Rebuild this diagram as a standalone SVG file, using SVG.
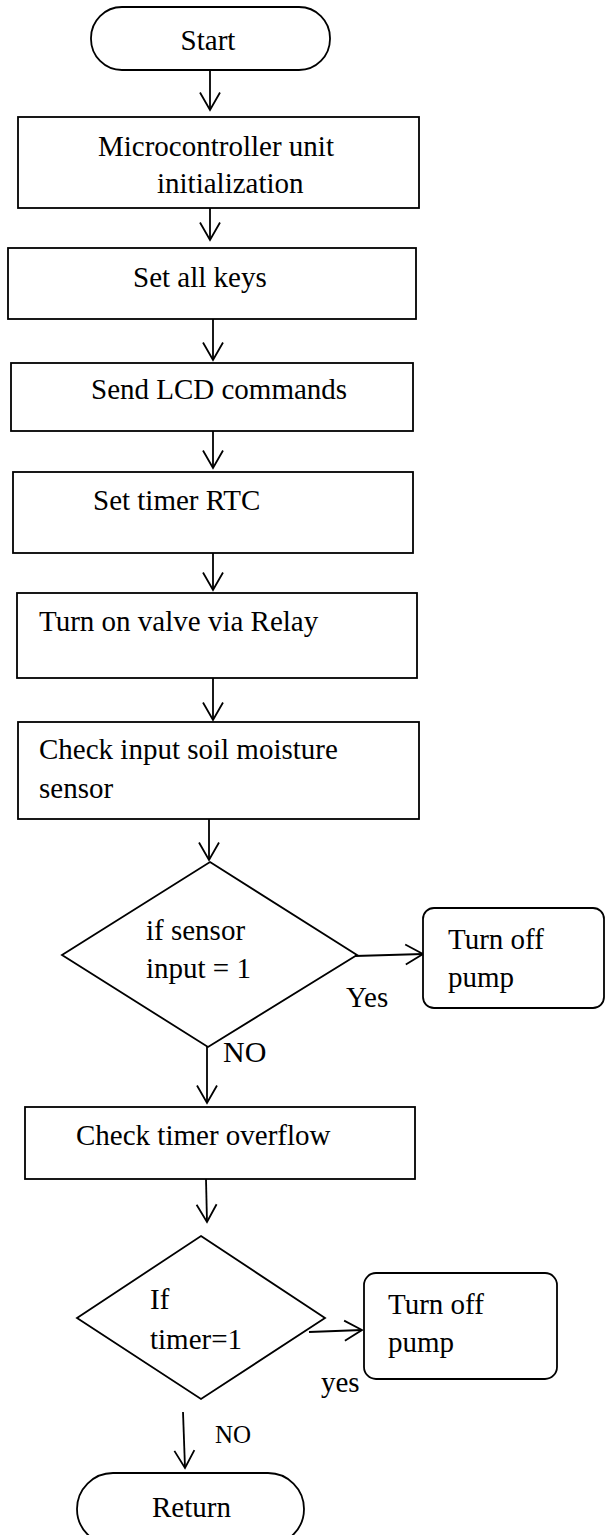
<svg xmlns="http://www.w3.org/2000/svg" width="608" height="1535" viewBox="0 0 608 1535">
<style>
.s{fill:#fff;stroke:#000;stroke-width:1.8}
.t{font-family:"Liberation Serif","Times New Roman",serif;font-size:29px;fill:#000}
.c{fill:none;stroke:#000;stroke-width:1.8}
</style>
<defs>
<marker id="ah" markerUnits="userSpaceOnUse" markerWidth="22" markerHeight="24" viewBox="0 0 22 24" refX="19" refY="12" orient="auto">
<path d="M1.5,2 L19,12 L1.5,22" fill="none" stroke="#000" stroke-width="1.8"/>
</marker>
</defs>
<rect width="608" height="1535" fill="#fff"/>
<g id="connectors">
<line class="c" x1="210" y1="70" x2="210" y2="110" marker-end="url(#ah)"/>
<line class="c" x1="210" y1="208" x2="210" y2="240" marker-end="url(#ah)"/>
<line class="c" x1="213" y1="319" x2="213" y2="360" marker-end="url(#ah)"/>
<line class="c" x1="213" y1="431" x2="213" y2="468" marker-end="url(#ah)"/>
<line class="c" x1="213" y1="553" x2="213" y2="590" marker-end="url(#ah)"/>
<line class="c" x1="213" y1="678" x2="213" y2="720" marker-end="url(#ah)"/>
<line class="c" x1="209" y1="819" x2="209" y2="860" marker-end="url(#ah)"/>
<line class="c" x1="355" y1="956" x2="423" y2="954" marker-end="url(#ah)"/>
<line class="c" x1="207" y1="1046" x2="207" y2="1103" marker-end="url(#ah)"/>
<line class="c" x1="206" y1="1179" x2="207" y2="1222" marker-end="url(#ah)"/>
<line class="c" x1="309" y1="1332" x2="362" y2="1330" marker-end="url(#ah)"/>
<line class="c" x1="183" y1="1412" x2="185" y2="1468" marker-end="url(#ah)"/>
<text class="t" x="346" y="1007">Yes</text>
<text class="t" x="223" y="1062" style="font-size:30px">NO</text>
<text class="t" x="321" y="1392">yes</text>
<text class="t" x="215" y="1443" style="font-size:25px">NO</text>
</g>
<g id="start">
<rect class="s" x="91" y="7" width="239" height="63" rx="31" ry="31"/>
<text class="t" x="208" y="50" text-anchor="middle">Start</text>
</g>
<g id="init">
<rect class="s" x="18" y="117" width="401" height="91"/>
<text class="t" x="98" y="156">Microcontroller unit</text>
<text class="t" x="157" y="193">initialization</text>
</g>
<g id="keys">
<rect class="s" x="8" y="248" width="408" height="71"/>
<text class="t" x="133" y="287">Set all keys</text>
</g>
<g id="lcd">
<rect class="s" x="11" y="363" width="402" height="68"/>
<text class="t" x="91" y="399">Send LCD commands</text>
</g>
<g id="rtc">
<rect class="s" x="13" y="472" width="400" height="81"/>
<text class="t" x="93" y="510">Set timer RTC</text>
</g>
<g id="valve">
<rect class="s" x="17" y="593" width="400" height="85"/>
<text class="t" x="39" y="631">Turn on valve via Relay</text>
</g>
<g id="check-sensor">
<rect class="s" x="18" y="722" width="401" height="97"/>
<text class="t" x="39" y="759">Check input soil moisture</text>
<text class="t" x="39" y="798">sensor</text>
</g>
<g id="if-sensor">
<polygon class="s" points="210,862 357,955 208,1047 62,955"/>
<text class="t" x="146" y="940">if sensor</text>
<text class="t" x="146" y="978">input = 1</text>
</g>
<g id="pump-off-1">
<rect class="s" x="423" y="908" width="181" height="100" rx="11" ry="11"/>
<text class="t" x="448" y="949">Turn off</text>
<text class="t" x="448" y="987">pump</text>
</g>
<g id="check-timer">
<rect class="s" x="25" y="1107" width="390" height="72"/>
<text class="t" x="76" y="1145">Check timer overflow</text>
</g>
<g id="if-timer">
<polygon class="s" points="201,1236 325,1318 201,1399 77,1318"/>
<text class="t" x="150" y="1309">If</text>
<text class="t" x="150" y="1349">timer=1</text>
</g>
<g id="pump-off-2">
<rect class="s" x="364" y="1273" width="193" height="106" rx="12" ry="12"/>
<text class="t" x="388" y="1314">Turn off</text>
<text class="t" x="388" y="1352">pump</text>
</g>
<g id="return">
<rect class="s" x="77" y="1473" width="227" height="72" rx="36" ry="36"/>
<text class="t" x="152" y="1517">Return</text>
</g>
</svg>
